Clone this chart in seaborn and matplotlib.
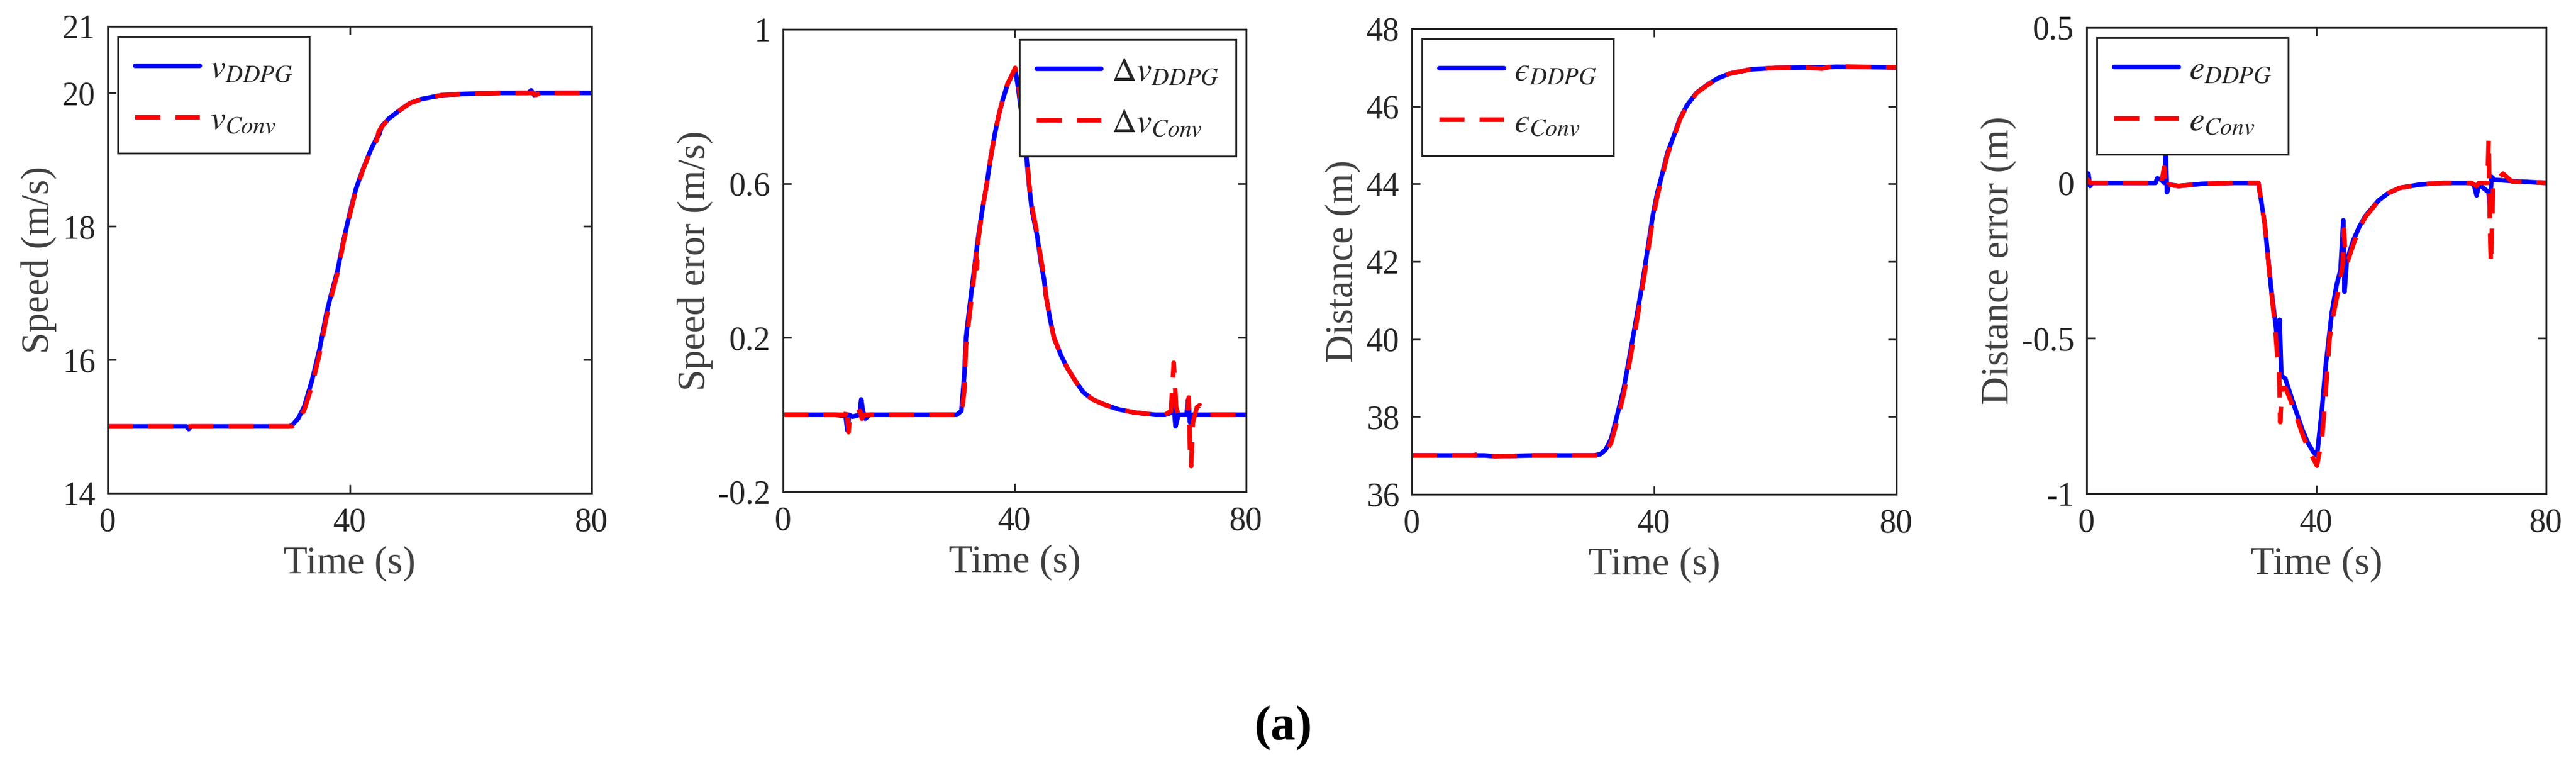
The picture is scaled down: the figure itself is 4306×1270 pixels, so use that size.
import matplotlib
matplotlib.use("Agg")
import matplotlib.pyplot as plt
import seaborn as sns

# ---- panel 1: speed ----
t_v_ddpg = [0, 5, 9, 13, 13.4, 13.8, 20, 25, 30, 30.5, 31.5, 32.5, 33.8, 35, 36.2, 37, 38, 39, 40.1,
            41, 42.2, 43.5, 44.5, 44.9, 45.3, 46.5, 48.4, 50, 51.9, 55.4, 60, 65, 69.5, 70, 70.5, 71, 72, 75, 80]
v_ddpg = [15, 15, 15, 15, 14.96, 15, 15, 15, 15, 15.02, 15.12, 15.3, 15.7, 16.15, 16.71, 17.0, 17.34, 17.8, 18.23,
          18.55, 18.86, 19.15, 19.33, 19.38, 19.5, 19.62, 19.75, 19.85, 19.91, 19.97, 19.99, 20, 20, 20.04, 19.97, 20.0, 20, 20, 20]
t_v_conv = [0, 5, 9, 13, 14, 20, 25, 30, 30.5, 31.5, 32.5, 33.8, 35, 36.2, 37, 38, 39, 40.1,
            41, 42.2, 43.5, 44.5, 44.8, 45.2, 46.5, 48.4, 50, 51.9, 55.4, 60, 65, 69.5, 70.2, 70.8, 71.5, 72, 75, 80]
v_conv = [15, 15, 15, 15, 15, 15, 15, 15, 15.0, 15.08, 15.25, 15.62, 16.08, 16.65, 16.96, 17.3, 17.77, 18.2,
          18.53, 18.85, 19.14, 19.3, 19.42, 19.48, 19.62, 19.75, 19.85, 19.91, 19.97, 19.99, 20, 20, 20.0, 19.97, 20.0, 20, 20, 20]

# ---- panel 2: speed error ----
t_dv_ddpg = [0, 5, 9, 10.8, 11.1, 11.4, 12, 13.2, 13.5, 13.8, 14.2, 15, 20, 25, 30, 30.8, 31.3, 31.6, 32.3, 33,
             33.7, 34.4, 35.2, 35.9, 36.6, 37.3, 38, 38.8, 39.5, 40.1, 40.6, 41.2, 41.7, 42.1, 42.5, 43, 43.9,
             44.6, 45.1, 45.4, 46.1, 46.8, 48, 49, 50.4, 51.9, 53.5, 55.6, 58, 60.7, 64.3, 66, 67, 67.4, 67.8,
             68.3, 69.7, 70.0, 70.3, 70.8, 80]
dv_ddpg = [0, 0, 0, -0.003, -0.04, 0.0, -0.005, 0, 0.04, 0.01, -0.01, 0, 0, 0, 0, 0.01, 0.1, 0.2, 0.29, 0.376,
           0.46, 0.53, 0.6, 0.67, 0.73, 0.78, 0.82, 0.858, 0.88, 0.896, 0.85, 0.78, 0.726, 0.66, 0.595, 0.53, 0.464,
           0.39, 0.35, 0.31, 0.25, 0.2, 0.155, 0.124, 0.09, 0.058, 0.04, 0.026, 0.014, 0.006, 0.0, 0.0, 0.005, 0.04,
           -0.03, 0.0, 0.0, 0.04, -0.02, 0.0, 0]
t_dv_conv = [0, 5, 9, 10.8, 11.0, 11.3, 11.6, 12, 13.3, 13.6, 14, 15, 20, 25, 30, 30.8, 31.3, 31.6, 32.3, 33,
             33.3, 33.5, 33.7, 34.4, 35.2, 35.9, 36.6, 37.3, 38, 38.8, 39.5, 40.1, 40.6, 41.2, 41.7, 42.1, 42.5,
             43, 43.9, 44.6, 45.1, 45.4, 46.1, 46.8, 48, 49, 50.4, 51.9, 53.5, 55.6, 58, 60.7, 64.3, 66, 67,
             67.5, 67.7, 67.9, 68.3, 69.8, 70.1, 70.3, 70.5, 70.8, 71.5, 72, 73, 80]
dv_conv = [0, 0, 0, 0.0, 0.02, -0.045, 0.0, 0.0, 0.01, -0.01, 0.0, 0, 0, 0, 0, 0.0, 0.06, 0.18, 0.27, 0.36,
           0.43, 0.38, 0.45, 0.53, 0.6, 0.67, 0.73, 0.78, 0.82, 0.86, 0.88, 0.9, 0.86, 0.8, 0.74, 0.68, 0.6,
           0.54, 0.47, 0.4, 0.36, 0.31, 0.25, 0.2, 0.155, 0.124, 0.09, 0.058, 0.04, 0.026, 0.014, 0.006, 0.0, 0.0, 0.01,
           0.135, 0.08, 0.02, 0.0, 0.0, 0.045, -0.09, -0.133, -0.02, 0.02, 0.025, 0.0, 0]

# ---- panel 3: distance ----
t_d_ddpg = [0, 10, 11.3, 12, 13.7, 20, 30, 31.1, 32, 32.9, 34, 35, 36, 37, 37.7, 38.4, 39.1, 39.8, 40.5,
            41.2, 42.2, 43.3, 44.3, 45.4, 47, 48.9, 50.5, 52.4, 55.9, 60, 65, 68, 70, 80]
d_ddpg = [37, 37, 37.0, 37.0, 36.98, 37, 37, 37.03, 37.15, 37.43, 38.1, 38.74, 39.6, 40.48, 41.1, 41.78, 42.5,
          43.2, 43.75, 44.17, 44.8, 45.26, 45.7, 46.02, 46.35, 46.57, 46.72, 46.84, 46.95, 46.99, 47, 47, 47.02, 47]
t_d_conv = [0, 10, 11.3, 12, 13.7, 20, 30, 31.1, 32, 32.9, 34, 35, 36, 37, 37.7, 38.4, 39.1, 39.8, 40.5,
            41.2, 42.2, 43.3, 44.3, 45.4, 47, 48.9, 50.5, 52.4, 55.9, 60, 65, 67.7, 68.5, 70.1, 80]
d_conv = [37, 37, 37.04, 37.01, 36.98, 37, 37, 37.0, 37.08, 37.33, 37.95, 38.6, 39.45, 40.33, 40.98, 41.65, 42.38,
          43.1, 43.66, 44.1, 44.75, 45.22, 45.68, 46.0, 46.34, 46.56, 46.71, 46.84, 46.95, 46.99, 47, 46.97, 47.0, 47.03, 47]

# ---- panel 4: distance error ----
t_e_ddpg = [0, 0.3, 0.6, 1, 9, 12, 12.3, 13, 13.5, 13.8, 14.0, 14.3, 16, 20, 25, 29.9, 31, 32.1, 32.8, 33.3,
            33.6, 33.9, 34.6, 35.3, 36.1, 37.6, 38.5, 39.4, 40.1, 40.9, 41.6, 42.7, 43.5, 44.2, 44.7, 44.9,
            45.3, 46.4, 47.5, 48.6, 50.8, 52.5, 54.5, 58.1, 62, 67, 67.5, 67.9, 68.3, 70, 70.2, 70.5, 71, 75, 80]
e_ddpg = [0, 0.03, -0.01, 0, 0, 0, 0.015, 0.01, 0.0, 0.09, -0.03, -0.005, -0.01, -0.003, 0, 0, -0.13, -0.335,
          -0.44, -0.52, -0.44, -0.62, -0.63, -0.67, -0.715, -0.796, -0.835, -0.864, -0.878, -0.742, -0.593, -0.416,
          -0.33, -0.28, -0.12, -0.35, -0.25, -0.186, -0.14, -0.105, -0.057, -0.033, -0.016, -0.005, 0, 0, -0.01,
          -0.04, -0.005, -0.03, -0.08, 0.02, 0.01, 0.005, 0]
t_e_conv = [0, 0.3, 0.6, 1, 9, 12, 13, 13.5, 13.8, 14.2, 16, 20, 25, 29.9, 31, 32.1, 32.8, 33.3, 33.5, 33.7,
            34, 34.6, 35.3, 36.1, 37.6, 38.5, 39.4, 40.1, 41, 41.6, 42.3, 43, 44, 44.6, 44.8, 45.1, 45.5, 46.4,
            47.5, 48.6, 50.8, 52.5, 54.5, 58.1, 62, 67, 67.9, 68.3, 69.8, 70.0, 70.2, 70.4, 70.8, 72.5, 74, 80]
e_conv = [0, 0.01, 0.0, 0, 0, 0, 0.0, 0.05, -0.02, -0.005, -0.01, -0.003, 0, 0, -0.13, -0.34, -0.46, -0.58,
          -0.6, -0.77, -0.66, -0.66, -0.69, -0.73, -0.81, -0.85, -0.885, -0.91, -0.82, -0.68, -0.5, -0.42, -0.33,
          -0.26, -0.15, -0.25, -0.25, -0.2, -0.145, -0.108, -0.058, -0.033, -0.016, -0.005, 0, 0, -0.01, 0.0,
          0.0, 0.14, -0.12, -0.26, 0.0, 0.03, 0.005, 0]

panels = [
    dict(tb=t_v_ddpg, yb=v_ddpg, tr=t_v_conv, yr=v_conv, lb=r"$v_{DDPG}$", lr=r"$v_{Conv}$",
         ylabel="Speed (m/s)", ylim=(14, 21), yticks=[14, 16, 18, 20, 21],
         yticklabels=["14", "16", "18", "20", "21"], loc="upper left"),
    dict(tb=t_dv_ddpg, yb=dv_ddpg, tr=t_dv_conv, yr=dv_conv, lb=r"$\Delta v_{DDPG}$", lr=r"$\Delta v_{Conv}$",
         ylabel="Speed eror (m/s)", ylim=(-0.2, 1), yticks=[-0.2, 0.2, 0.6, 1],
         yticklabels=["-0.2", "0.2", "0.6", "1"], loc="upper right"),
    dict(tb=t_d_ddpg, yb=d_ddpg, tr=t_d_conv, yr=d_conv, lb="$\u03f5_{DDPG}$", lr="$\u03f5_{Conv}$",
         ylabel="Distance (m)", ylim=(36, 48), yticks=[36, 38, 40, 42, 44, 46, 48],
         yticklabels=["36", "38", "40", "42", "44", "46", "48"], loc="upper left"),
    dict(tb=t_e_ddpg, yb=e_ddpg, tr=t_e_conv, yr=e_conv, lb=r"$e_{DDPG}$", lr=r"$e_{Conv}$",
         ylabel="Distance error (m)", ylim=(-1, 0.5), yticks=[-1, -0.5, 0, 0.5],
         yticklabels=["-1", "-0.5", "0", "0.5"], loc="upper left"),
]

W, H = 4306, 1270
boxes = [(180, 44, 989, 824), (1309, 49, 2083, 822), (2360, 48, 3170, 826), (3488, 46, 4256, 825)]

sns.set_theme(style="ticks")
plt.rcParams["font.family"] = ["Liberation Serif", "DejaVu Serif"]
plt.rcParams["mathtext.fontset"] = "stix"

ink = "#262626"
fig = plt.figure(figsize=(W / 100, H / 100), dpi=100)

for p, (x0, y0, x1, y1) in zip(panels, boxes):
    ax = fig.add_axes([x0 / W, 1 - y1 / H, (x1 - x0) / W, (y1 - y0) / H])
    sns.lineplot(x=p["tb"], y=p["yb"], ax=ax, color="#0000ff", linewidth=5.5, sort=False,
                 estimator=None, label=p["lb"])
    sns.lineplot(x=p["tr"], y=p["yr"], ax=ax, color="#ff0000", linewidth=5.5, sort=False,
                 estimator=None, label=p["lr"], linestyle=(0, (5.5, 3.3)))
    ax.set_xlim(0, 80)
    ax.set_ylim(*p["ylim"])
    ax.set_xticks([0, 40, 80])
    ax.set_yticks(p["yticks"])
    ax.set_yticklabels(p["yticklabels"])
    ax.tick_params(direction="in", top=True, right=True, length=10, width=2, labelsize=40,
                   colors=ink)
    ax.tick_params(axis="x", pad=17)
    ax.tick_params(axis="y", pad=15)
    for s in ax.spines.values():
        s.set_visible(True)
        s.set_linewidth(2.2)
        s.set_color(ink)
    ax.set_xlabel("Time (s)", fontsize=47, color="#404040", labelpad=9)
    ax.set_ylabel(p["ylabel"], fontsize=47, color="#404040", labelpad=6)
    leg = ax.legend(loc=p["loc"], fontsize=41, frameon=True, fancybox=False, framealpha=1,
                    edgecolor=ink, borderaxespad=0.3, handlelength=1.9, labelspacing=0.6,
                    borderpad=0.5, handletextpad=0.3)
    leg.get_frame().set_linewidth(2.2)

fig.text(2145 / W, 1 - 1217 / H, "(a)", ha="center", va="center", fontsize=60,
         fontweight="bold", color="black")

fig.savefig("out.png", dpi=100, facecolor="white")
